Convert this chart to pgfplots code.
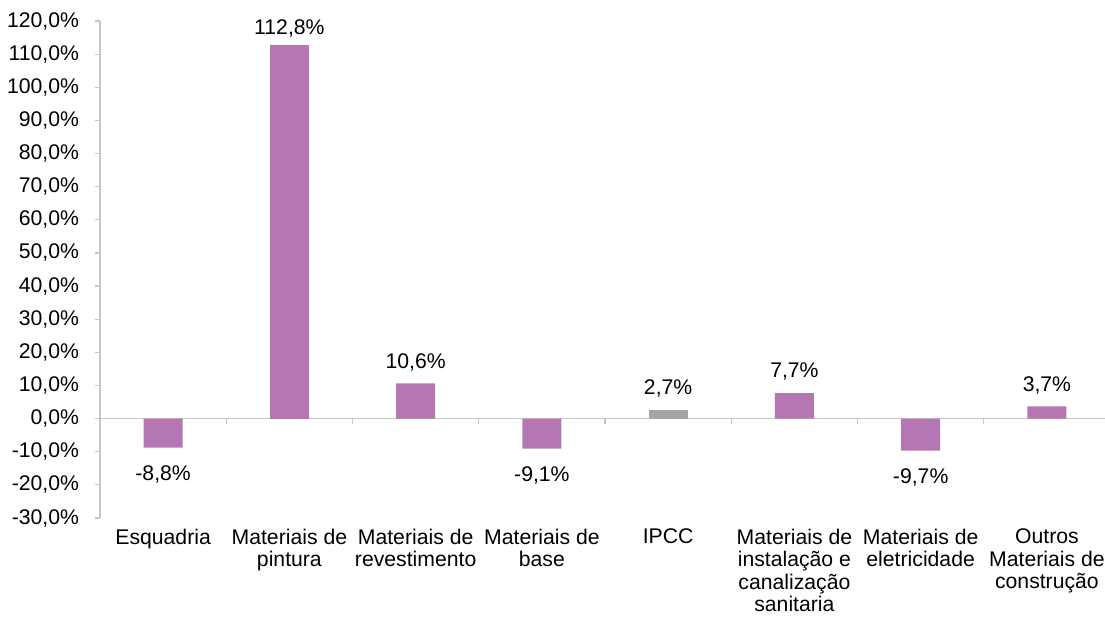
\documentclass[border=0pt]{standalone}
\usepackage{pgfplots}
\pgfplotsset{compat=1.18}
\usepackage{fontspec}
\setmainfont{Liberation Sans}
\definecolor{barpurple}{HTML}{B477B4}
\definecolor{bargray}{HTML}{A6A6A6}
\definecolor{axgray}{HTML}{C6C6C6}
\begin{document}
\begin{tikzpicture}[font=\fontsize{10.6}{11.2}\selectfont]
\begin{axis}[
  scale only axis,
  width=502.5pt,height=248.5pt,
  xmin=-0.5,xmax=7.46,ymin=-30,ymax=120,
  axis lines*=left,
  x axis line style={draw=none},
  y axis line style={axgray,line width=0.6pt},
  ytick={-30,-20,...,120},
  xtick={0,...,7},
  xticklabels={Esquadria,{Materiais de\\pintura},{Materiais de\\revestimento},{Materiais de\\base},IPCC,{Materiais de\\instalação e\\canalização\\sanitaria},{Materiais de\\eletricidade},{Outros\\Materiais de\\construção}},
  xticklabel style={align=center,anchor=north,yshift=0.5pt},
  yticklabel style={xshift=-4.5pt},
  major x tick style={draw=none},
  major tick length=2.5pt,
  tick align=outside,
  ytick style={axgray,line width=0.6pt},
  /pgf/number format/assume math mode=true,
  yticklabel={\pgfmathprintnumber[fixed,fixed zerofill,precision=1,use comma]{\tick}\%},
  ybar,
  bar width=19.5pt,
  nodes near coords={\pgfmathprintnumber[fixed,fixed zerofill,precision=1,use comma]{\pgfplotspointmeta}\%},
  nodes near coords align={vertical},
  clip=false,
]
  \draw[axgray,line width=0.6pt] (axis cs:-0.5,0) -- (axis cs:7.46,0);
  \pgfplotsinvokeforeach{0.5,1.5,2.5,3.5,4.5,5.5,6.5}{
    \draw[axgray,line width=0.6pt] (axis cs:#1,0) -- ++(0pt,-2.5pt);
  }
  % tallest bar, label kept inside the plot area
  \addplot[fill=barpurple,draw=none,bar shift=0pt,
    every node near coord/.append style={inner sep=3.5pt}]
    coordinates {(1,112.8)};
  % other positive purple bars
  \addplot[fill=barpurple,draw=none,bar shift=0pt,
    every node near coord/.append style={inner sep=6pt}]
    coordinates {(2,10.6) (5,7.7) (7,3.7)};
  % negative purple bars
  \addplot[fill=barpurple,draw=none,bar shift=0pt,
    every node near coord/.append style={inner sep=3pt,yshift=-6pt}]
    coordinates {(0,-8.8) (3,-9.1) (6,-9.7)};
  % IPCC
  \addplot[fill=bargray,draw=none,bar shift=0pt,
    every node near coord/.append style={inner sep=6pt}]
    coordinates {(4,2.7)};
\end{axis}
\pgfresetboundingbox
\path[use as bounding box] (-50pt,-50.5pt) rectangle (502.5pt,259pt);
\end{tikzpicture}
\end{document}
